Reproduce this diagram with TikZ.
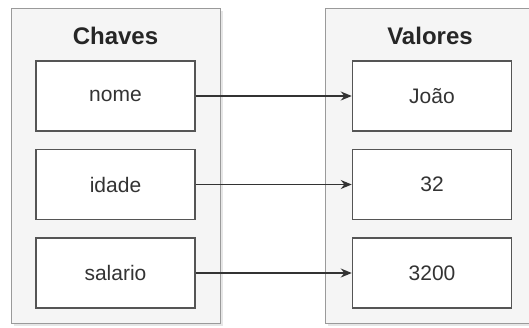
\documentclass[tikz,border=0pt]{standalone}
\usepackage{fontspec}
\setmainfont{Liberation Sans}
\usetikzlibrary{positioning, shadows, arrows.meta}
\definecolor{panelfill}{HTML}{F5F5F5}
\definecolor{panelline}{HTML}{9A9A9A}
\definecolor{boxline}{HTML}{555555}
\definecolor{textcol}{HTML}{333333}

\begin{document}
\begin{tikzpicture}[x=1pt, y=1pt, node distance=17pt]
    % Define styles
    \tikzstyle{panel} = [rectangle, draw=panelline, fill=panelfill, line width=1.2pt, minimum width=209pt, minimum height=315pt, anchor=north west, drop shadow={opacity=0.2, shadow xshift=2pt, shadow yshift=-2pt}]
    \tikzstyle{field} = [rectangle, draw=boxline, fill=white, line width=1.5pt, minimum width=159pt, minimum height=70pt, font=\fontsize{21}{24}\selectfont, text=textcol]
    \tikzstyle{heading} = [font=\bfseries\fontsize{24}{28}\selectfont, text=black!85]
    \tikzstyle{arrow} = [-{Stealth[length=11pt, width=9pt]}, line width=1.3pt, draw=textcol]

    \useasboundingbox (0,0) rectangle (529,-327);
    \clip (0,0) rectangle (529,-327);

    % Panels
    \node[panel] (keys) at (11,-8) {};
    \node[panel] (vals) at (325,-8) {};
    \node[heading] (keystitle) at (115.5,-36) {Chaves};
    \node[heading] (valstitle) at (430,-36) {Valores};

    % Nodes
    \node[field] (nome) at (115.5,-96) {nome};
    \node[field, below=of nome] (idade) {idade};
    \node[field, below=of idade] (salario) {salario};
    \node[field, right=156pt of nome] (joao) {João};
    \node[field, below=of joao] (trintadois) {32};
    \node[field, below=of trintadois] (tresmil) {3200};

    % Connections
    \draw[arrow] (nome) -- (joao);
    \draw[arrow] (idade) -- (trintadois);
    \draw[arrow] (salario) -- (tresmil);
\end{tikzpicture}
\end{document}
